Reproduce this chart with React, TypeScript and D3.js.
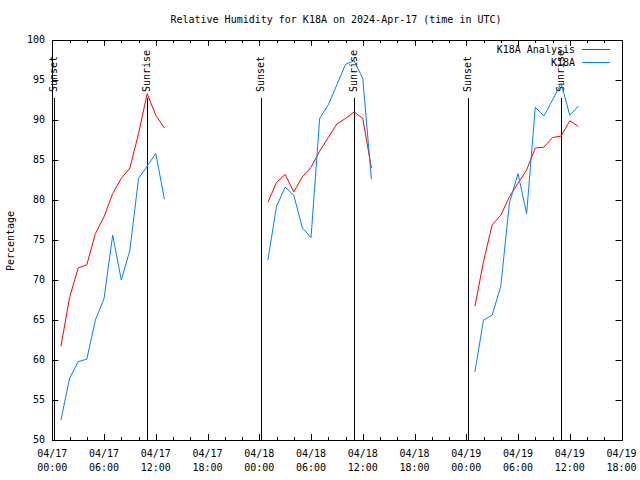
import React from "react";
import * as d3 from "d3";

const hours = [1,2,3,4,5,6,7,8,9,10,11,12,13, 25,26,27,28,29,30,31,32,33,34,35,36,37, 49,50,51,52,53,54,55,56,57,58,59,60,61];
const analysis = [61.7,67.8,71.5,71.9,75.8,77.9,80.8,82.7,84.0,88.3,93.3,90.6,89.0,
  79.7,82.2,83.2,81.0,82.9,84.1,86.1,87.8,89.5,90.2,91.0,90.2,84.0,
  66.7,72.3,76.9,78.1,80.4,82.1,83.75,86.5,86.6,87.8,88.0,89.9,89.2];
const observed = [52.5,57.7,59.8,60.1,65.0,67.7,75.6,70.0,73.75,82.7,84.25,85.8,80.1,
  72.5,79.2,81.6,80.6,76.5,75.3,90.2,91.9,94.4,96.95,97.4,95.2,82.6,
  58.5,65.0,65.6,69.2,79.6,83.3,78.3,91.6,90.5,92.5,94.6,90.6,91.75];
const sunsets = [0.18, 24.2, 48.25];
const sunrises = [11.0, 35.0, 59.0];
const xTickHours = [0,6,12,18,24,30,36,42,48,54,60,66];
const xTickDates = ["04/17","04/17","04/17","04/17","04/18","04/18","04/18","04/18","04/19","04/19","04/19","04/19"];
const xTickTimes = ["00:00","06:00","12:00","18:00","00:00","06:00","12:00","18:00","00:00","06:00","12:00","18:00"];
const yTicks = [50,55,60,65,70,75,80,85,90,95,100];
const seriesNames = ["K18A Analysis", "K18A"];
const seriesColors = ["#ff0000", "#0080ff"];

const W = 640, H = 480;
const L = 52.3, R = 621.5, T = 40, B = 440;
const font = "'DejaVu Sans Mono', monospace";

export default function App() {
  const x = d3.scaleLinear().domain([0, 66]).range([L, R]);
  const y = d3.scaleLinear().domain([50, 100]).range([B, T]);
  const pts = (vals: number[]) => hours.map((h, i) => ({ h, v: vals[i], brk: i > 0 && h - hours[i - 1] > 1 }));
  const mkPath = (vals: number[]) => {
    const p = pts(vals);
    const segs: { h: number; v: number }[][] = [];
    p.forEach((d) => {
      if (segs.length === 0 || d.brk) segs.push([]);
      segs[segs.length - 1].push(d);
    });
    const line = d3.line<{ h: number; v: number }>().x((d) => x(d.h)).y((d) => y(d.v));
    return segs.map((s) => line(s) || "").join("");
  };
  const minorX = d3.range(0, 67, 2);
  return (
    <svg width={W} height={H} style={{ position: "absolute", left: 0, top: 0, background: "#fff" }} fontFamily={font} fontSize={10}>
      <rect x={0} y={0} width={W} height={H} fill="#fff" />
      <text x={336} y={20} textAnchor="middle" dominantBaseline="middle">Relative Humidity for K18A on 2024-Apr-17 (time in UTC)</text>
      {/* y ticks */}
      {yTicks.map((t) => (
        <g key={"y" + t}>
          <line x1={L} x2={L + 6} y1={Math.round(y(t)) + 0.5} y2={Math.round(y(t)) + 0.5} stroke="#000" />
          <line x1={R} x2={R - 6} y1={Math.round(y(t)) + 0.5} y2={Math.round(y(t)) + 0.5} stroke="#000" />
          <text x={45} y={y(t)} textAnchor="end" dominantBaseline="middle">{t}</text>
        </g>
      ))}
      {/* x ticks */}
      {minorX.map((h) => {
        const major = h % 6 === 0;
        const len = major ? 6 : 3;
        const xx = Math.round(x(h)) + 0.5;
        return (
          <g key={"x" + h}>
            <line x1={xx} x2={xx} y1={B} y2={B - len} stroke="#000" />
            <line x1={xx} x2={xx} y1={T} y2={T + len} stroke="#000" />
          </g>
        );
      })}
      {xTickHours.map((h, i) => (
        <g key={"xl" + h}>
          <text x={x(h)} y={454} textAnchor="middle" dominantBaseline="middle">{xTickDates[i]}</text>
          <text x={x(h)} y={468} textAnchor="middle" dominantBaseline="middle">{xTickTimes[i]}</text>
        </g>
      ))}
      <text transform="translate(11,241) rotate(-90)" textAnchor="middle" dominantBaseline="middle">Percentage</text>
      {/* sun lines */}
      {sunsets.map((h) => (
        <g key={"ss" + h}>
          <line x1={Math.round(x(h)) + 0.5} x2={Math.round(x(h)) + 0.5} y1={98} y2={B} stroke="#000" />
          <text transform={`translate(${x(h)},${92}) rotate(-90)`} textAnchor="start" dominantBaseline="middle">Sunset</text>
        </g>
      ))}
      {sunrises.map((h) => (
        <g key={"sr" + h}>
          <line x1={Math.round(x(h)) + 0.5} x2={Math.round(x(h)) + 0.5} y1={98} y2={B} stroke="#000" />
          <text transform={`translate(${x(h)},${92}) rotate(-90)`} textAnchor="start" dominantBaseline="middle">Sunrise</text>
        </g>
      ))}
      {/* data */}
      <path d={mkPath(analysis)} fill="none" stroke={seriesColors[0]} strokeWidth={1} />
      <path d={mkPath(observed)} fill="none" stroke={seriesColors[1]} strokeWidth={1} />
      {/* legend */}
      {seriesNames.map((n, i) => (
        <g key={n}>
          <text x={575} y={50 + i * 13} textAnchor="end" dominantBaseline="middle">{n}</text>
          <line x1={582} x2={610} y1={49.5 + i * 13} y2={49.5 + i * 13} stroke={seriesColors[i]} />
        </g>
      ))}
      {/* frame */}
      <rect x={Math.round(L) + 0.5} y={T + 0.5} width={Math.round(R) - Math.round(L)} height={B - T} fill="none" stroke="#000" />
    </svg>
  );
}
